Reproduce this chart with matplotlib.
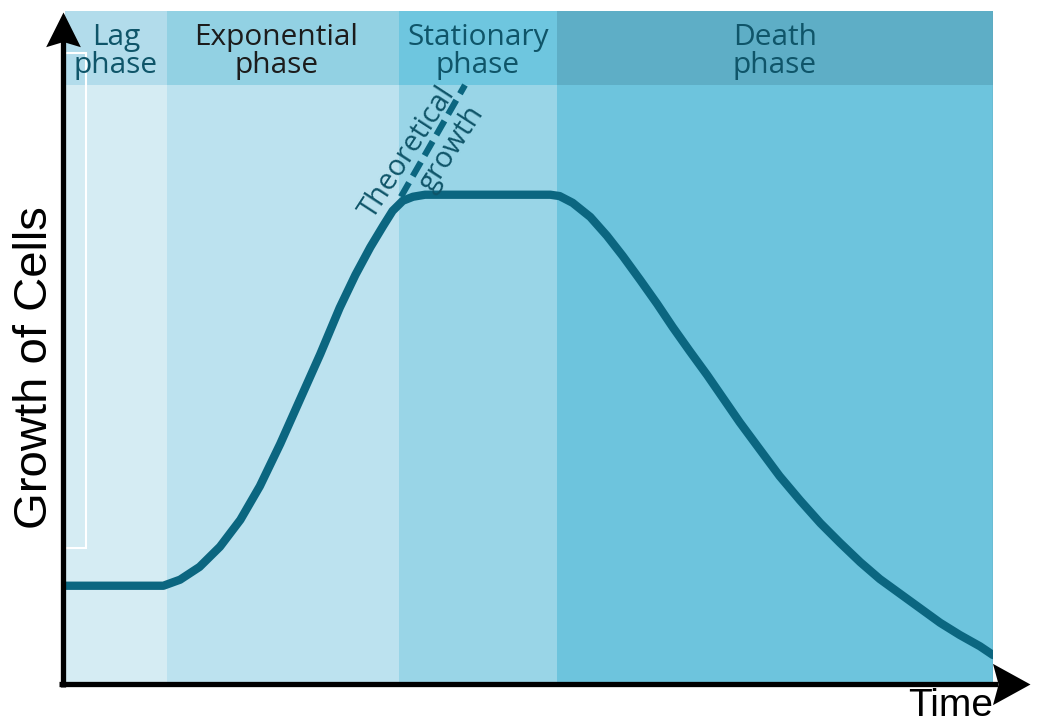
import numpy as np
import matplotlib
matplotlib.use('Agg')
import matplotlib.pyplot as plt
from matplotlib.patches import Rectangle
from matplotlib.path import Path

# phases of the bacterial growth curve (time in arbitrary units, 0..10)
phase_names = ['Lag\nphase', 'Exponential\nphase', 'Stationary\nphase', 'Death\nphase']
phase_edges = [0.0, 1.1, 3.6, 5.3, 10.0]
phase_body = ['#d5ecf3', '#bce2ef', '#99d5e7', '#6dc4dd']
phase_head = ['#b2dceb', '#92d1e3', '#6ec6df', '#5eaec6']
phase_text = ['#0f5569', '#1c1c1c', '#0f5569', '#0f5569']

# growth curve
time = [0.0, 1.06, 1.24, 1.45, 1.67, 1.89, 2.10, 2.32, 2.53, 2.75, 2.96, 3.13,
        3.29, 3.43, 3.53, 3.64, 3.75, 3.88, 5.23, 5.33, 5.47, 5.66, 5.84, 6.01,
        6.20, 6.38, 6.55, 6.73, 6.92, 7.09, 7.27, 7.49, 7.70, 7.92, 8.14, 8.35,
        8.57, 8.78, 9.00, 9.21, 9.43, 9.64, 9.86, 10.0]
growth = [1.46, 1.46, 1.55, 1.74, 2.04, 2.44, 2.94, 3.57, 4.22, 4.90, 5.59, 6.08,
          6.49, 6.81, 7.03, 7.18, 7.24, 7.27, 7.27, 7.25, 7.15, 6.94, 6.66, 6.36,
          6.00, 5.65, 5.30, 4.95, 4.59, 4.25, 3.89, 3.48, 3.09, 2.73, 2.39, 2.10,
          1.81, 1.56, 1.34, 1.13, 0.91, 0.73, 0.56, 0.43]

# theoretical (unlimited) growth continuation
theo_time = [3.62, 4.31]
theo_growth = [7.24, 8.90]

header_bottom = 8.9
curve_color = '#0b6680'
teal_text = '#0f5569'

fig = plt.figure(figsize=(10.39, 7.22), dpi=100)
ax = fig.add_axes([65 / 1039, 38 / 722, 928 / 1039, 673 / 722])
ax.set_xlim(0, 10)
ax.set_ylim(0, 10)
ax.axis('off')

for i, name in enumerate(phase_names):
    x0, x1 = phase_edges[i], phase_edges[i + 1]
    ax.add_patch(Rectangle((x0, 0), x1 - x0, header_bottom, color=phase_body[i], lw=0, zorder=0))
    ax.add_patch(Rectangle((x0, header_bottom), x1 - x0, 10 - header_bottom,
                           color=phase_head[i], lw=0, zorder=0))
    xc = (x0 + x1) / 2
    if i == 1:
        xc -= 0.07
    ax.text(xc, 9.40, name, ha='center', va='center', fontsize=21.5,
            family='Open Sans', color=phase_text[i], linespacing=0.95)

ax.plot([10, 10], [0, 10], color='#5c9fb2', lw=1, zorder=1)

# stray white frame near the y axis
ax.add_patch(Rectangle((-0.05, 2.02), 0.28, 7.36, fill=False, ec='white', lw=1.5,
                       zorder=2, clip_on=False))

ax.plot(theo_time, theo_growth, color=curve_color, lw=4.5, dashes=(2.6, 1.2), zorder=3)
ax.plot(time, growth, color=curve_color, lw=6, solid_capstyle='round',
        solid_joinstyle='round', zorder=4)

ax.text(3.69, 7.90, 'Theoretical', rotation=57, ha='center', va='center',
        fontsize=21, family='Open Sans', color=teal_text,
        rotation_mode='anchor', zorder=5)
ax.text(4.17, 7.96, 'growth', rotation=57, ha='center', va='center',
        fontsize=21, family='Open Sans', color=teal_text,
        rotation_mode='anchor', zorder=5)

# axes with notched arrow heads
head_up = Path([(0, 0), (-0.5, -1), (0, -0.85), (0.5, -1), (0, 0)],
               [Path.MOVETO, Path.LINETO, Path.LINETO, Path.LINETO, Path.CLOSEPOLY])
head_right = Path([(0, 0), (-1, 0.55), (-0.85, 0), (-1, -0.55), (0, 0)],
                  [Path.MOVETO, Path.LINETO, Path.LINETO, Path.LINETO, Path.CLOSEPOLY])
tr = ax.transAxes
ax.plot([-0.002, -0.002], [-0.004, 0.96], color='black', lw=3.8, transform=tr,
        clip_on=False, solid_capstyle='butt', zorder=6)
ax.plot([-0.006, 1.005], [0.0, 0.0], color='black', lw=3.8, transform=tr,
        clip_on=False, solid_capstyle='butt', zorder=6)
ax.plot([-0.002], [0.999], marker=head_up, ms=50, color='black', mew=0, transform=tr,
        clip_on=False, zorder=7)
ax.plot([1.04], [0.0], marker=head_right, ms=54, color='black', mew=0, transform=tr,
        clip_on=False, zorder=7)

fig.text(35 / 1039, 1 - 368 / 722, 'Growth of Cells', rotation=90, ha='center',
         va='center', fontsize=34, family='Liberation Sans')
fig.text(951 / 1039, 1 - 706 / 722, 'Time', ha='center', va='center', fontsize=28,
         family='Liberation Sans')

fig.savefig('out.png', dpi=100)
